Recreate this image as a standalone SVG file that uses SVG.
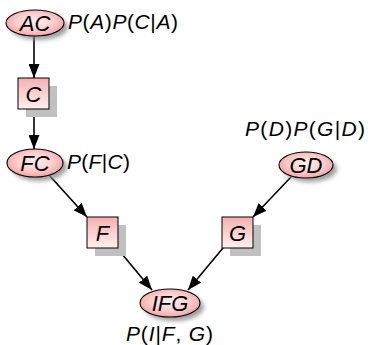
<svg xmlns="http://www.w3.org/2000/svg" width="368" height="345" viewBox="0 0 368 345">
<defs>
<radialGradient id="eg" cx="0.5" cy="0.45" r="0.6">
<stop offset="0" stop-color="#fff0f0"/>
<stop offset="0.55" stop-color="#fbcccc"/>
<stop offset="1" stop-color="#f09a9a"/>
</radialGradient>
<linearGradient id="bg" x1="0" y1="0" x2="0" y2="1">
<stop offset="0" stop-color="#f6b0b0"/>
<stop offset="1" stop-color="#fff0f0"/>
</linearGradient>
<filter id="blur" x="-30%" y="-30%" width="160%" height="160%">
<feGaussianBlur stdDeviation="2"/>
</filter>
<marker id="ah" viewBox="0 0 14 11" refX="14" refY="5.5" markerWidth="14" markerHeight="11" markerUnits="userSpaceOnUse" orient="auto">
<path d="M0,0 L14,5.5 L0,11 Z" fill="#000"/>
</marker>
</defs>
<style>
.el{fill:url(#eg);stroke:#000;stroke-width:1.1}
.bx{fill:url(#bg);stroke:#000;stroke-width:1}
.es{fill:#888;filter:url(#blur);opacity:0.8}
.bs{fill:#c0c0c0}
.lbl{font-family:"Liberation Sans",Arial,sans-serif;font-size:22px;font-style:italic;text-anchor:middle;fill:#000}
.fm{font-family:"Liberation Sans",Arial,sans-serif;font-size:21px;font-style:italic;fill:#000}
.up{font-style:normal}
.cn{stroke:#000;stroke-width:1.6;fill:none;marker-end:url(#ah)}
</style>
<g id="connectors">
<line class="cn" x1="34" y1="36" x2="34" y2="78"/>
<line class="cn" x1="34" y1="109" x2="34" y2="149"/>
<line class="cn" x1="49" y1="175" x2="87" y2="217"/>
<line class="cn" x1="117" y1="248" x2="152" y2="290"/>
<line class="cn" x1="291" y1="177" x2="253" y2="217"/>
<line class="cn" x1="223" y1="248" x2="188" y2="290"/>
</g>
<g id="AC">
<ellipse class="es" cx="39" cy="27" rx="29" ry="13"/>
<ellipse class="el" cx="35" cy="23" rx="29" ry="13"/>
<text class="lbl" x="35" y="31">AC</text>
<text class="fm" x="68" y="29" textLength="110">P<tspan class="up">(</tspan>A<tspan class="up">)</tspan>P<tspan class="up">(</tspan>C<tspan class="up">|</tspan>A<tspan class="up">)</tspan></text>
</g>
<g id="C">
<rect class="bs" x="26" y="86" width="31" height="31"/>
<rect class="bx" x="18" y="78" width="31" height="31"/>
<text class="lbl" x="33.5" y="101.5">C</text>
</g>
<g id="FC">
<ellipse class="es" cx="39" cy="167" rx="28" ry="14"/>
<ellipse class="el" cx="35" cy="163" rx="28" ry="14"/>
<text class="lbl" x="35" y="171">FC</text>
<text class="fm" x="67" y="169" textLength="63">P<tspan class="up">(</tspan>F<tspan class="up">|</tspan>C<tspan class="up">)</tspan></text>
</g>
<g id="F">
<rect class="bs" x="95" y="225" width="31" height="31"/>
<rect class="bx" x="87" y="217" width="31" height="31"/>
<text class="lbl" x="102.5" y="240.5">F</text>
</g>
<g id="GD">
<ellipse class="es" cx="310" cy="169" rx="27" ry="13"/>
<ellipse class="el" cx="306" cy="165" rx="27" ry="13"/>
<text class="lbl" x="306" y="173">GD</text>
<text class="fm" x="245" y="136" textLength="120">P<tspan class="up">(</tspan>D<tspan class="up">)</tspan>P<tspan class="up">(</tspan>G<tspan class="up">|</tspan>D<tspan class="up">)</tspan></text>
</g>
<g id="G">
<rect class="bs" x="230" y="225" width="31" height="31"/>
<rect class="bx" x="222" y="217" width="31" height="31"/>
<text class="lbl" x="237.5" y="240.5">G</text>
</g>
<g id="IFG">
<ellipse class="es" cx="174" cy="307" rx="30" ry="14"/>
<ellipse class="el" cx="170" cy="303" rx="30" ry="14"/>
<text class="lbl" x="170" y="311">IFG</text>
<text class="fm" x="126" y="341" textLength="87">P<tspan class="up">(</tspan>I<tspan class="up">|</tspan>F<tspan class="up">, </tspan>G<tspan class="up">)</tspan></text>
</g>
</svg>
